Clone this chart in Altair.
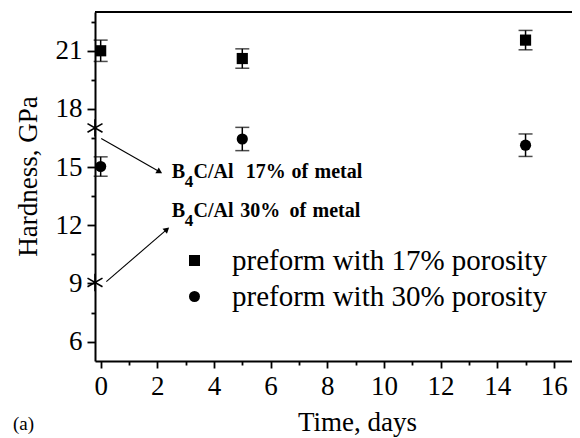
import altair as alt
import pandas as pd

# ---- data ----
days = [0, 5, 15]
hard_17 = [21.0, 20.6, 21.55]
err_17 = [0.55, 0.5, 0.5]
hard_30 = [15.03, 16.45, 16.13]
err_30 = [0.5, 0.6, 0.58]
series = ["preform with 17% porosity", "preform with 30% porosity"]
shapes = ["square", "circle"]

x_ticks = [0, 1, 2, 3, 4, 5, 6, 7, 8, 9, 10, 11, 12, 13, 14, 15, 16]
y_ticks = [6, 7.5, 9, 10.5, 12, 13.5, 15, 16.5, 18, 19.5, 21, 22.5]

# reference (bulk B4C/Al) markers and their labels
ref_x = [-0.2, -0.2]
ref_y = [17.02, 9.05]
arrow_x = [0.02, 0.2]
arrow_y = [16.48, 9.09]
arrow_x2 = [2.08, 2.34]
arrow_y2 = [14.76, 11.79]
arrow_angle = [30, 319]

# annotation words (x, y in data units)
ann_text = ["B", "C/Al", "17%", "of", "metal", "B", "C/Al", "30%", "of", "metal"]
ann_x = [2.51, 3.28, 5.12, 6.74, 7.55, 2.51, 3.28, 4.93, 6.67, 7.48]
ann_y = [14.44, 14.44, 14.44, 14.44, 14.44, 12.44, 12.44, 12.44, 12.44, 12.44]
sub_x = [2.97, 2.97]
sub_y = [13.97, 11.98]

XS = alt.Scale(domain=[-0.2, 16.64], nice=False, zero=False)
YS = alt.Scale(domain=[5, 23], nice=False, zero=False)
FONT = "Liberation Serif"

rows = []
for name, vals, errs in [(series[0], hard_17, err_17), (series[1], hard_30, err_30)]:
    for d, v, e in zip(days, vals, errs):
        rows.append({"day": d, "h": v, "lo": v - e, "hi": v + e, "series": name})
df = pd.DataFrame(rows)
caps = pd.concat([
    df[["day", "lo"]].rename(columns={"lo": "yc"}),
    df[["day", "hi"]].rename(columns={"hi": "yc"}),
])

x_axis = alt.Axis(
    values=x_ticks,
    labelExpr="datum.value % 2 == 0 ? datum.label : ''",
    tickSize={"condition": {"test": "datum.value % 2 == 0", "value": 7}, "value": 4},
    title="Time, days",
    titleX=262, titleY=69, titleBaseline="alphabetic", titleAnchor="start",
    titleAlign="center",
    grid=False,
)
y_axis = alt.Axis(
    values=y_ticks,
    labelExpr="datum.value % 3 == 0 ? datum.label : ''",
    tickSize={"condition": {"test": "datum.value % 3 == 0", "value": 8}, "value": 4},
    title="Hardness, GPa",
    titleX=-59, titleY=164, titleBaseline="alphabetic", titleAlign="center",
    titleAngle=270, titleAnchor="start",
    grid=False,
)


def X(f):
    return alt.X(f, type="quantitative", scale=XS, axis=x_axis)


def Y(f):
    return alt.Y(f, type="quantitative", scale=YS, axis=y_axis)


errbars = alt.Chart(df).mark_rule(color="black", strokeWidth=1.5).encode(
    x=X("day"), y=Y("lo"), y2="hi:Q",
)
capmarks = alt.Chart(caps).mark_tick(
    color="black", orient="horizontal", size=14, thickness=1.5
).encode(x=X("day"), y=Y("yc"))

points = alt.Chart(df).mark_point(filled=True, size=125, opacity=1).encode(
    x=X("day"),
    y=Y("h"),
    shape=alt.Shape(
        "series:N",
        scale=alt.Scale(domain=series, range=shapes),
        legend=alt.Legend(
            title=None, orient="none", legendX=85, legendY=234,
            labelFont=FONT, labelFontSize=29, labelColor="black",
            symbolSize=121, symbolFillColor="black", symbolStrokeColor="black",
            labelOffset=23, rowPadding=6, padding=0, labelLimit=0,
        ),
    ),
    color=alt.value("black"),
)

refdf = pd.DataFrame({"x": ref_x, "y": ref_y})
asterisk = "M0,-1L0,1M-0.866,-0.5L0.866,0.5M-0.866,0.5L0.866,-0.5"
refs = alt.Chart(refdf).mark_point(
    shape=asterisk, size=300, filled=False, color="black", strokeWidth=1.6, opacity=1
).encode(x=X("x"), y=Y("y"))

arrdf = pd.DataFrame({"x": arrow_x, "y": arrow_y, "x2": arrow_x2, "y2": arrow_y2,
                      "ang": arrow_angle})
arrows = alt.Chart(arrdf).mark_rule(color="black", strokeWidth=1.1).encode(
    x=X("x"), y=Y("y"), x2="x2", y2="y2"
)
heads = alt.Chart(arrdf).mark_point(
    shape="triangle-right", size=45, filled=True, color="black", opacity=1
).encode(x=X("x2"), y=Y("y2"), angle=alt.Angle("ang:Q", scale=None))

anndf = pd.DataFrame({"t": ann_text, "x": ann_x, "y": ann_y})
ann = alt.Chart(anndf).mark_text(
    font=FONT, fontSize=20, fontWeight="bold", align="left", baseline="alphabetic",
    color="black",
).encode(x=X("x"), y=Y("y"), text="t:N")
subdf = pd.DataFrame({"t": ["4", "4"], "x": sub_x, "y": sub_y})
sub = alt.Chart(subdf).mark_text(
    font=FONT, fontSize=17, fontWeight="bold", align="left", baseline="alphabetic",
    color="black",
).encode(x=X("x"), y=Y("y"), text="t:N")

top = alt.Chart(pd.DataFrame({"a": [-0.2], "b": [16.64], "y": [23]})).mark_rule(
    color="black", strokeWidth=2
).encode(x=X("a"), x2="b", y=Y("y"))

label_a = alt.Chart(pd.DataFrame({"t": ["(a)"]})).mark_text(
    font=FONT, fontSize=19, align="left", baseline="alphabetic", color="black"
).encode(x=alt.value(-82), y=alt.value(418), text="t:N")

chart = alt.layer(
    errbars, capmarks, points, refs, arrows, heads, ann, sub, top, label_a
).properties(
    width=477, height=349,
    autosize=alt.AutoSizeParams(type="none"),
    padding={"left": 87, "top": 4, "right": 0, "bottom": 76},
).configure_view(stroke=None).configure_axis(
    labelFont=FONT, labelFontSize=27, labelColor="black",
    titleFont=FONT, titleFontSize=27, titleColor="black", titleFontWeight="normal",
    domainColor="black", domainWidth=2, tickColor="black", tickWidth=1.8,
    labelPadding=5,
).configure_legend(labelFont=FONT)

chart.save("out.html", embed_options={"renderer": "svg", "actions": False})
